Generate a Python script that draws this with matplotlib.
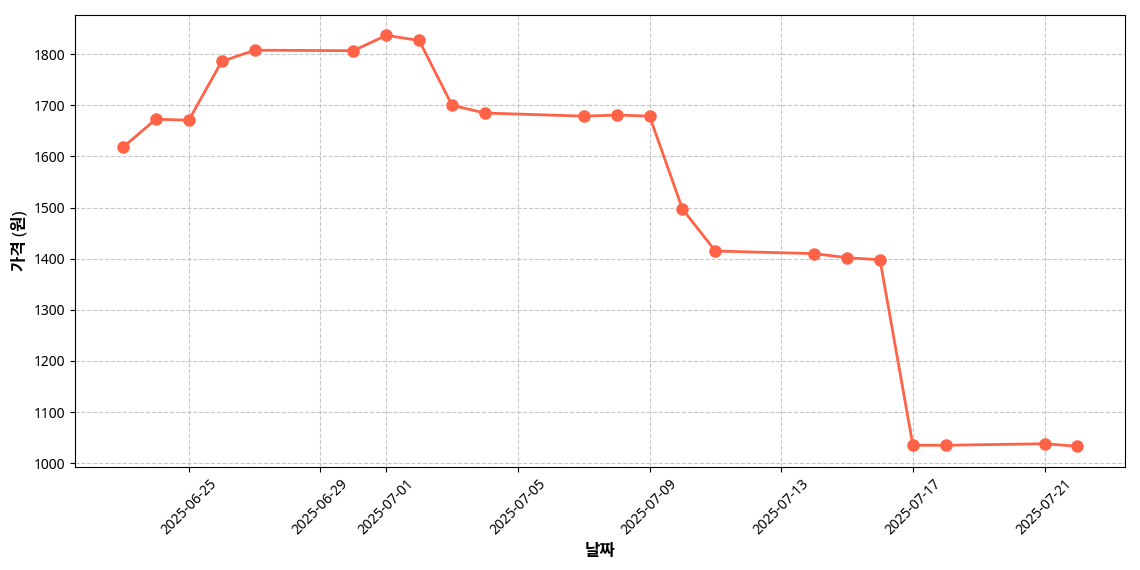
import matplotlib
matplotlib.use("Agg")
import matplotlib.pyplot as plt
import matplotlib.dates as mdates
import pandas as pd

plt.rcParams['font.family'] = ['Noto Sans', 'Noto Sans CJK KR', 'DejaVu Sans']
plt.rcParams['axes.unicode_minus'] = False

dates = ["2025-06-23", "2025-06-24", "2025-06-25", "2025-06-26", "2025-06-27",
         "2025-06-30", "2025-07-01", "2025-07-02", "2025-07-03", "2025-07-04",
         "2025-07-07", "2025-07-08", "2025-07-09", "2025-07-10", "2025-07-11",
         "2025-07-14", "2025-07-15", "2025-07-16", "2025-07-17", "2025-07-18",
         "2025-07-21", "2025-07-22"]
prices = [1618, 1673, 1671, 1786, 1808,
          1807, 1837, 1827, 1700, 1685,
          1679, 1681, 1679, 1497, 1415,
          1410, 1402, 1398, 1035, 1035,
          1038, 1033]

x = pd.to_datetime(dates)

fig, ax = plt.subplots(figsize=(11.4, 5.7), dpi=100)
fig.subplots_adjust(left=0.066, right=0.987, top=0.974, bottom=0.181)
ax.plot(x, prices, color='#FF6347', marker='o', linewidth=2, markersize=8)
ax.set_xlabel('날짜', fontsize=12, fontweight='bold')
ax.set_ylabel('가격 (원)', fontsize=12, fontweight='bold')
ax.grid(True, linestyle='--', alpha=0.7)
ax.xaxis.set_major_locator(mdates.DayLocator(bymonthday=[1, 5, 9, 13, 17, 21, 25, 29]))
ax.xaxis.set_major_formatter(mdates.DateFormatter('%Y-%m-%d'))
plt.setp(ax.get_xticklabels(), rotation=45)
fig.savefig('out.png', dpi=100)
